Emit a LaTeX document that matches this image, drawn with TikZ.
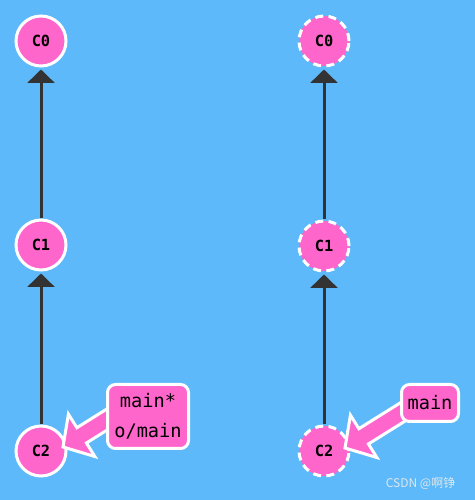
\documentclass[tikz,border=0pt]{standalone}
\usepackage{fontspec}
\newfontfamily\mono{DejaVu Sans Mono}
\newfontfamily\cjk{Noto Sans CJK SC}
\usetikzlibrary{arrows.meta}
\definecolor{bg}{HTML}{5DB9F9}
\definecolor{commit}{HTML}{FF66CC}
\definecolor{edge}{HTML}{333333}
\definecolor{wm}{HTML}{DDE6EE}
\begin{document}
\begin{tikzpicture}[x=0.75pt,y=0.75pt,
  commitnode/.style={circle, fill=commit, draw=white, line width=2.25pt, minimum size=37.5pt, inner sep=0pt, font=\mono\bfseries\fontsize{11.5}{12}\selectfont},
  ghost/.style={commitnode, dash pattern=on 6pt off 4pt},
  parent/.style={draw=edge, line width=2.25pt, -{Triangle[length=10pt,width=20pt]}, shorten >=1.5pt},
  branch/.style={fill=commit, draw=white, line width=2.25pt, rounded corners=6pt, font=\mono\fontsize{14}{22.5}\selectfont, align=center, inner sep=0pt},
  ptr/.style={fill=commit, draw=white, line width=2.25pt, line join=miter}]
\fill[bg] (0,0) rectangle (475,500);
\useasboundingbox (0,0) rectangle (475,500);
% left column
\node[commitnode] (a0) at (41,459) {C0};
\node[commitnode] (a1) at (41,255) {C1};
\node[commitnode] (a2) at (41,49) {C2};
\draw[parent] (a1) -- (a0);
\draw[parent] (a2) -- (a1);
% right column
\node[ghost] (b0) at (324,459) {C0};
\node[ghost] (b1) at (324,254) {C1};
\node[ghost] (b2) at (324,49) {C2};
\draw[parent] (b1) -- (b0);
\draw[parent] (b2) -- (b1);
% fat pointer arrows
\coordinate (ta) at ([shift={(22,4)}]a2.center);
\coordinate (tb) at ([shift={(21,3)}]b2.center);
\begin{scope}[shift={(ta)}, rotate=32]
  \draw[ptr] (0,0) -- (22,25) -- (22,9) -- (72,9) -- (72,-9) -- (22,-9) -- (22,-25) -- cycle;
\end{scope}
\begin{scope}[shift={(tb)}, rotate=32]
  \draw[ptr] (0,0) -- (22,25) -- (22,9) -- (75,9) -- (75,-9) -- (22,-9) -- (22,-25) -- cycle;
\end{scope}
\node[branch, minimum width=60.75pt, minimum height=48pt] (la) at (148,83.5) {main*\\o/main};
\node[branch, minimum width=42.75pt, minimum height=27.75pt] (lb) at (430,97) {main};
% watermark
\node[text=wm, font=\cjk\fontsize{9}{10}\selectfont, anchor=east] (wmk) at (460,17) {CSDN @啊铮};
\end{tikzpicture}
\end{document}
